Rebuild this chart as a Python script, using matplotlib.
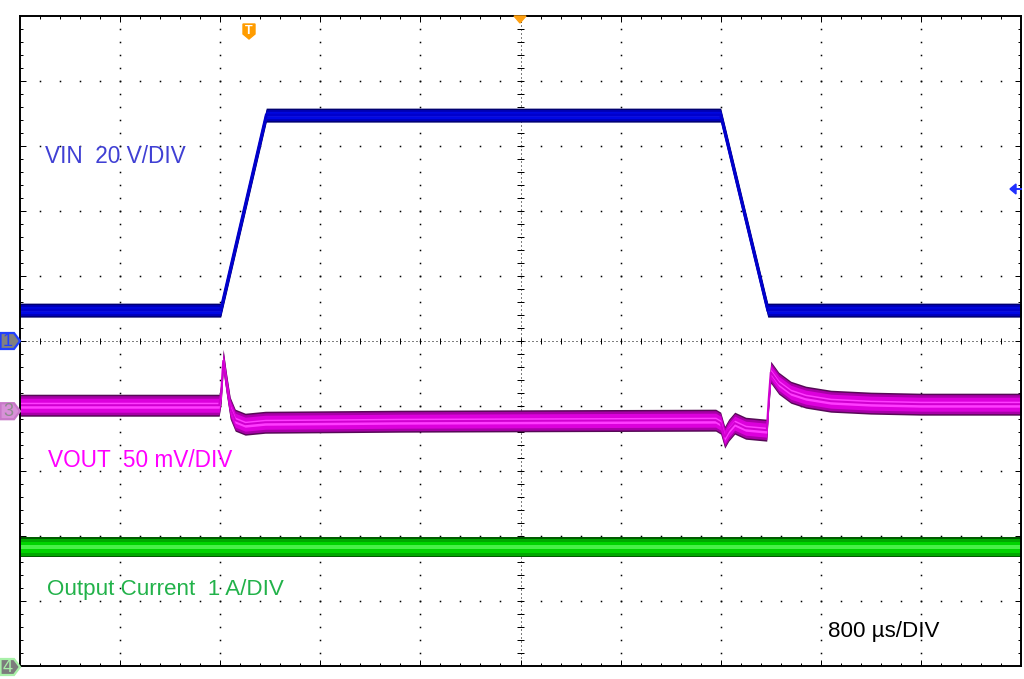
"""Scope capture: line transient (VIN step) with VOUT and output current."""

import matplotlib

matplotlib.use("Agg")
import matplotlib.pyplot as plt
import numpy as np
from matplotlib.patches import Polygon

# ---- data (time in us, 800 us/div, 10 div) ----
t_vin = [0, 1604, 1968, 5600, 5976, 8000]
vin_v = [9.5, 9.5, 69.5, 69.5, 9.5, 9.5]

t_vout = [0, 1592, 1608, 1624, 1648, 1680, 1720, 1800, 1960, 3040, 5560, 5600,
          5632, 5664, 5712, 5800, 5968, 5984, 6000, 6064, 6160, 6280, 6480,
          6800, 7200, 8000]
vout_mv = [4.6, 4.6, 14.6, 39.2, 22.3, 2.3, -6.9, -10.0, -8.5, -7.7, -6.9, -9.2,
           -20.0, -14.6, -9.2, -13.1, -14.6, 10.0, 30.0, 21.5, 14.6, 10.8, 7.7,
           6.2, 5.4, 5.4]

t_iout = [0, 8000]
iout_a = [1.83, 1.83]

# channel scale (units/div) and ground position (div from centre)
ch1_scale, ch1_pos = 20.0, 0.0
ch3_scale, ch3_pos = 50.0, -1.08
ch4_scale, ch4_pos = 1.0, -5.0

DIV_T = 800.0
PX_PER_DIV_Y = 65.0
FONT = "Liberation Sans"


def px_y(div):
    # screen row of a vertical position in divisions
    return 341 - div * PX_PER_DIV_Y


def draw_trace(ax, t, y, layers, edge=None):
    y = np.asarray(y)
    for half_px, color in layers:
        h = half_px / PX_PER_DIV_Y
        ax.fill_between(t, y - h, y + h, color=color, lw=0, zorder=3)
    if edge:
        ax.plot(t, y, color=edge[1], lw=edge[0] * 0.72, zorder=3,
                solid_joinstyle="miter")


def draw_grid(ax):
    minor_x = np.arange(160, 8000, 160)
    minor_y = np.arange(-4.8, 5.0, 0.2)
    dot = dict(ls="none", marker="s", ms=1.1, mew=0, color="black", zorder=1)
    for row in range(-4, 5):
        if row != 0:
            ax.plot(minor_x, np.full(len(minor_x), row), **dot)
    for col in range(1, 10):
        if col != 5:
            ax.plot(np.full(len(minor_y), col * DIV_T), minor_y, **dot)
    # centre cross
    ax.axhline(0, color="black", lw=0.72, ls=(0, (1, 3)), zorder=1)
    ax.axvline(4000, color="black", lw=0.72, ls=(0, (1, 3)), zorder=1)
    tk = 3 / PX_PER_DIV_Y
    ax.vlines(minor_x, -tk, tk, color="black", lw=0.72, zorder=1)
    ax.hlines(minor_y, 4000 - 24, 4000 + 24, color="black", lw=0.72, zorder=1)
    # border ticks
    for x in minor_x:
        ln = 6 if x % 800 == 0 else 3
        ax.vlines(x, 5 - ln / PX_PER_DIV_Y, 5, color="black", lw=0.72, zorder=1)
        ax.vlines(x, -5, -5 + ln / PX_PER_DIV_Y, color="black", lw=0.72, zorder=1)
    for y in minor_y:
        ln = 6 if abs(y - round(y)) < 1e-6 else 3
        ax.hlines(y, 0, ln * 8, color="black", lw=0.72, zorder=1)
        ax.hlines(y, 8000 - ln * 8, 8000, color="black", lw=0.72, zorder=1)


def tag(ov, yc, num, face, edge, txt):
    pts = [(0.5, yc - 8), (14, yc - 8), (20, yc), (14, yc + 8), (0.5, yc + 8)]
    ov.add_patch(Polygon(pts, closed=True, facecolor=face, edgecolor=edge, lw=1.6))
    ov.text(8, yc + 0.5, num, color=txt, fontsize=13, family=FONT,
            ha="center", va="center")


fig = plt.figure(figsize=(10.24, 6.79), dpi=100)
ax = fig.add_axes([20 / 1024, 13 / 679, 1001 / 1024, 650 / 679])
ax.set_xlim(0, 8000)
ax.set_ylim(-5, 5)
ax.set_xticks([])
ax.set_yticks([])
for s in ax.spines.values():
    s.set_linewidth(1.4)
    s.set_color("black")
    s.set_zorder(6)

draw_grid(ax)

vin_div = ch1_pos + np.asarray(vin_v) / ch1_scale
draw_trace(ax, t_vin, vin_div,
           [(7, "#000070"), (5.5, "#0000b8"), (3.5, "#0008e4"), (1.2, "#2a32ff")],
           edge=(3, "#0000cc"))

vout_div = ch3_pos + np.asarray(vout_mv) / ch3_scale
draw_trace(ax, t_vout, vout_div,
           [(11, "#560a56"), (9.5, "#a800a8"), (7, "#dc00dc"), (3, "#ff3cff")],
           edge=(2, "#d000d0"))

iout_div = ch4_pos + np.asarray(iout_a) / ch4_scale
draw_trace(ax, t_iout, iout_div,
           [(10, "#005c00"), (8.5, "#00a800"), (5.5, "#00d400"), (2, "#48f048")])

# overlay in screen pixels for labels and scope markers
ov = fig.add_axes([0, 0, 1, 1])
ov.set_xlim(0, 1024)
ov.set_ylim(679, 0)
ov.axis("off")
ov.patch.set_alpha(0)

ov.text(45, 163, "VIN  20 V/DIV", color="#4040d4", fontsize=16.3, family=FONT)
ov.text(48, 467, "VOUT  50 mV/DIV", color="#ff00ff", fontsize=16.3, family=FONT)
ov.text(47, 595, "Output Current  1 A/DIV", color="#22b24a", fontsize=16.1, family=FONT)
ov.text(828, 637, "800 \u00b5s/DIV", color="black", fontsize=16.1, family=FONT)

tag(ov, px_y(ch1_pos), "1", "#808080", "#2040ff", "#2040ff")
tag(ov, px_y(ch3_pos), "3", "#d890d8", "#c878c8", "#8c8c8c")
tag(ov, px_y(ch4_pos) + 1, "4", "#7c7c7c", "#a8f0a8", "#a8f0a8")

# trigger level arrow (right), trigger position and expansion markers (top)
ov.add_patch(Polygon([(1010, 189), (1016, 184), (1016, 194)], color="#2030ff"))
ov.plot([1014, 1021], [189, 189], color="#2030ff", lw=1.4)
ov.add_patch(Polygon([(514, 16), (526, 16), (520, 23)], color="#ffa010"))
ov.add_patch(Polygon([(243, 24), (255, 24), (255, 34), (249, 39), (243, 34)],
                     color="#ff9c00"))
ov.text(249, 31, "T", color="white", fontsize=9, family=FONT, weight="bold",
        ha="center", va="center")

fig.savefig("out.png", dpi=100)
plt.close(fig)
